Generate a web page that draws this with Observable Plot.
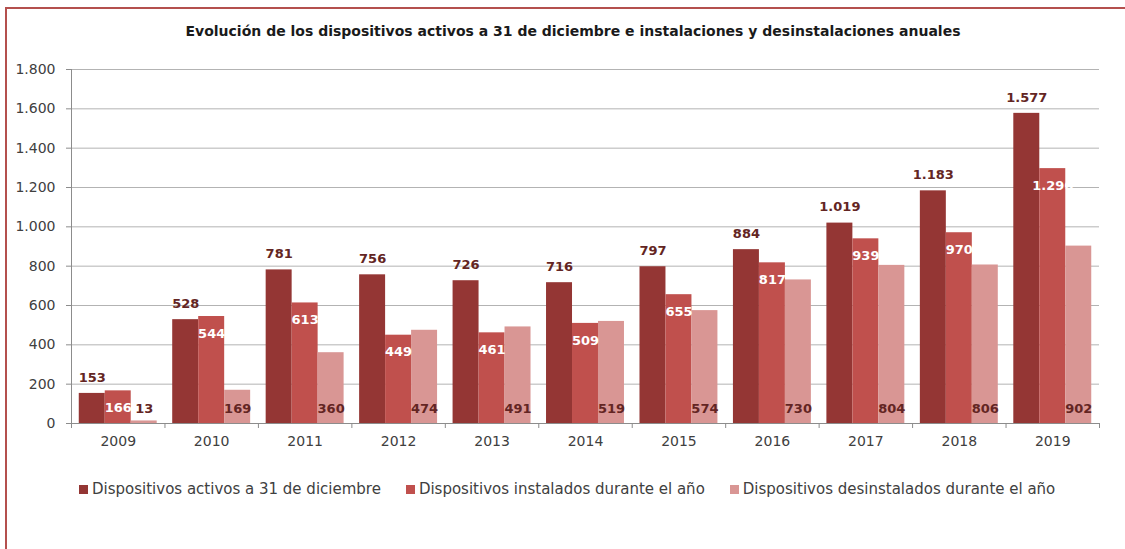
<!DOCTYPE html>
<html><head><meta charset="utf-8">
<script src="https://cdn.jsdelivr.net/npm/d3@7"></script>
<script src="https://cdn.jsdelivr.net/npm/@observablehq/plot@0.6"></script>
<style>
body{margin:0;background:#fff;overflow:hidden;font-family:"DejaVu Sans",sans-serif;}
#wrap{position:relative;width:1125px;height:549px;overflow:hidden;}
#border{position:absolute;left:5px;top:7px;width:1300px;height:700px;border:2px solid #b4504e;box-sizing:border-box;}
#title{position:absolute;left:0;top:23px;width:1146px;text-align:center;font-weight:bold;font-size:14px;color:#1a1a1a;}
#chart{position:absolute;left:0;top:60px;}
#legend{position:absolute;left:79px;top:480px;display:flex;font-size:15px;color:#404040;}
.item{display:flex;align-items:center;margin-right:25px;}
.sw{width:9px;height:9px;margin-right:4px;}
</style></head>
<body><div id="wrap"><div id="border"></div><div id="title"></div><div id="chart"></div><div id="legend"></div></div>
<script>
const title = "Evolución de los dispositivos activos a 31 de diciembre e instalaciones y desinstalaciones anuales";
const years = ["2009","2010","2011","2012","2013","2014","2015","2016","2017","2018","2019"];
const seriesNames = ["Dispositivos activos a 31 de diciembre","Dispositivos instalados durante el año","Dispositivos desinstalados durante el año"];
const activos = [153,528,781,756,726,716,797,884,1019,1183,1577];
const instalados = [166,544,613,449,461,509,655,817,939,970,1296];
const desinstalados = [13,169,360,474,491,519,574,730,804,806,902];
const colors = ["#943634","#c0504d","#d99694"];
const yTicks = [0,200,400,600,800,1000,1200,1400,1600,1800];

const fmt = d3.formatLocale({decimal:",", thousands:".", grouping:[3], currency:["",""]}).format(",");
const values = [activos, instalados, desinstalados];
const rows = years.flatMap((year,i) => seriesNames.map((s,k) => ({i, k, year, series:s, value: values[k][i]})));
const bw = 0.278, off = (1 - 3*bw)/2;
const x1 = d => d.i + off + d.k*bw, x2 = d => d.i + off + (d.k+1)*bw, xm = d => d.i + off + (d.k+0.5)*bw;
const labelDark = "#632523";

document.getElementById("title").textContent = title;

const chart = Plot.plot({
  width:1125, height:400, marginTop:9, marginLeft:71, marginRight:26, marginBottom:37,
  x:{domain:[0, years.length], axis:null},
  y:{domain:[0,1800], axis:null},
  color:{domain:seriesNames, range:colors},
  style:{fontFamily:"DejaVu Sans, sans-serif", fontSize:"14px", color:"#404040", background:"transparent", overflow:"visible"},
  marks:[
    Plot.gridY(yTicks.filter(d=>d>0), {stroke:"#b3b3b3", strokeOpacity:1}),
    Plot.axisY(yTicks, {tickSize:5, tickPadding:11, tickFormat:fmt, stroke:"#8c8c8c", fill:"#404040", label:null}),
    Plot.rect(rows, {x1, x2, y1:0, y2:"value", fill:"series"}),
    Plot.ruleY([0], {stroke:"#8c8c8c"}),
    Plot.ruleX([0], {stroke:"#8c8c8c"}),
    Plot.axisX(d3.range(0, years.length+1), {tickSize:5, tickFormat:()=>"", stroke:"#8c8c8c", label:null}),
    Plot.axisX(years.map((y,i)=>i+0.5), {tickSize:0, tickPadding:13, tickFormat:d=>years[Math.floor(d)], fill:"#404040", label:null}),
    Plot.text(rows.filter(d=>d.k===0), {x:xm, y:"value", text:d=>fmt(d.value), dy:-16, fill:labelDark, fontWeight:"bold", fontSize:13}),
    Plot.text(rows.filter(d=>d.k===1), {x:xm, y:"value", text:d=>fmt(d.value), dy:17, fill:"white", fontWeight:"bold", fontSize:13}),
    Plot.text(rows.filter(d=>d.k===2), {x:xm, y:0, text:d=>fmt(d.value), dy:-15, fill:labelDark, fontWeight:"bold", fontSize:13})
  ]
});
document.getElementById("chart").appendChild(chart);

const leg = document.getElementById("legend");
seriesNames.forEach((s,k) => {
  const it = document.createElement("div"); it.className = "item";
  const sw = document.createElement("div"); sw.className = "sw"; sw.style.background = colors[k];
  const t = document.createElement("span"); t.textContent = s;
  it.appendChild(sw); it.appendChild(t); leg.appendChild(it);
});
</script></body></html>
